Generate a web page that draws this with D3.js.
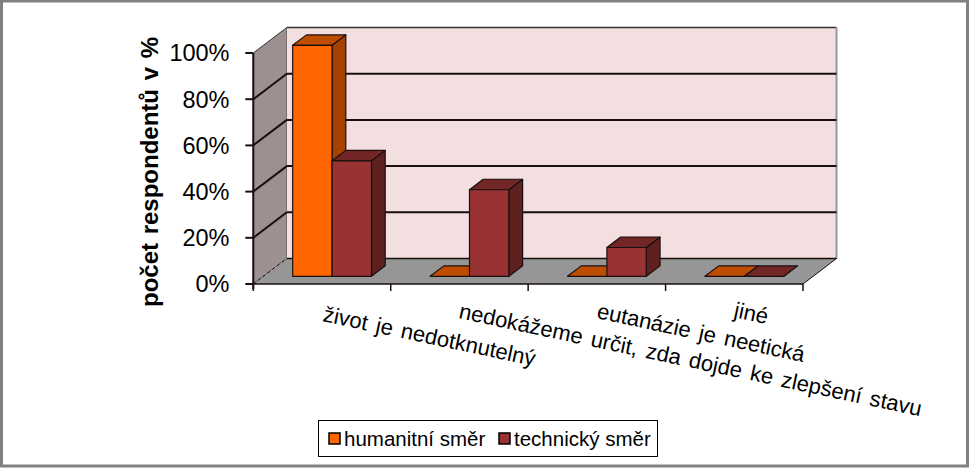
<!DOCTYPE html>
<html lang="cs">
<head>
    <meta charset="UTF-8">
    <title>Počet respondentů</title>
    <script src="https://d3js.org/d3.v7.min.js"></script>
    <style>
        html, body { margin: 0; padding: 0; background: #fff; }
        svg { display: block; }
        text { font-family: "Liberation Sans", Arial, sans-serif; fill: #000; }
    </style>
</head>
<body>
    <svg id="chart" width="969" height="468"></svg>

    <script>
        // data
        const categories = ["život je nedotknutelný", "nedokážeme určit, zda dojde ke zlepšení stavu", "eutanázie je neetická", "jiné"];
        const seriesNames = ["humanitní směr", "technický směr"];
        const humanitni = [100, 0, 0, 0];
        const technicky = [50, 37.5, 12.5, 0];
        const yTicks = [0, 20, 40, 60, 80, 100];
        const seriesValues = [humanitni, technicky];

        const front = ["#ff6600", "#993333"];
        const top3d = ["#bf4d00", "#732626"];
        const side = ["#a64200", "#5f2020"];

        const svg = d3.select("#chart");

        // frame
        svg.append("rect").attr("x", 1.5).attr("y", 1).attr("width", 966).attr("height", 465)
            .attr("fill", "#fff").attr("stroke", "#808080").attr("stroke-width", 3);

        // plot scales (front plane of the 3d box)
        const x = d3.scaleBand().domain(d3.range(categories.length)).range([253.3, 803]);
        const y = d3.scaleLinear().domain([0, 100]).range([284, 53]);
        const dx = 33.5, dy = -25.5; // wall depth
        const barDepth = 0.41; // part of the depth taken by a bar
        const barStart = 0.3;  // bar front plane
        const inner = d3.scaleBand().domain([0, 1]).range([0, x.bandwidth()]).paddingOuter(0.744).paddingInner(0);

        const line = "#1a0f0f";
        const poly = pts => pts.map(p => p.join(",")).join(" ");

        // left wall
        svg.append("polygon")
            .attr("points", poly([[x.range()[0], y(0)], [x.range()[0], y(100)], [x.range()[0] + dx, y(100) + dy], [x.range()[0] + dx, y(0) + dy]]))
            .attr("fill", "#9c9090").attr("stroke", "#333").attr("stroke-width", 1);

        // back wall
        svg.append("rect")
            .attr("x", x.range()[0] + dx).attr("y", y(100) + dy)
            .attr("width", x.range()[1] - x.range()[0]).attr("height", y(0) - y(100))
            .attr("fill", "#f3dfdf");
        svg.append("line")
            .attr("x1", x.range()[0] + dx).attr("x2", x.range()[1] + dx)
            .attr("y1", y(100) + dy).attr("y2", y(100) + dy)
            .attr("stroke", "#333").attr("stroke-width", 1.5);
        svg.append("line")
            .attr("x1", x.range()[1] + dx).attr("x2", x.range()[1] + dx)
            .attr("y1", y(100) + dy).attr("y2", y(0) + dy)
            .attr("stroke", "#999").attr("stroke-width", 2);

        // floor
        svg.append("polygon")
            .attr("points", poly([[x.range()[0], y(0)], [x.range()[1], y(0)], [x.range()[1] + dx, y(0) + dy], [x.range()[0] + dx, y(0) + dy]]))
            .attr("fill", "#969696");
        svg.append("line")
            .attr("x1", x.range()[0] + dx).attr("x2", x.range()[1] + dx)
            .attr("y1", y(0) + dy).attr("y2", y(0) + dy)
            .attr("stroke", line).attr("stroke-width", 1.5);
        svg.append("line")
            .attr("x1", x.range()[1]).attr("x2", x.range()[1] + dx)
            .attr("y1", y(0)).attr("y2", y(0) + dy)
            .attr("stroke", line).attr("stroke-width", 1);

        // gridlines, back wall and left wall
        const grid = svg.append("g").attr("stroke", line).attr("stroke-width", 2);
        yTicks.filter(t => t > 0 && t < 100).forEach(t => {
            grid.append("line")
                .attr("x1", x.range()[0] + dx).attr("x2", x.range()[1] + dx)
                .attr("y1", y(t) + dy).attr("y2", y(t) + dy);
            grid.append("line")
                .attr("x1", x.range()[0]).attr("x2", x.range()[0] + dx)
                .attr("y1", y(t)).attr("y2", y(t) + dy);
        });
        svg.append("line")
            .attr("x1", x.range()[0]).attr("x2", x.range()[0] + dx)
            .attr("y1", y(0)).attr("y2", y(0) + dy)
            .attr("stroke", line).attr("stroke-dasharray", "3,3");

        // bars, back to front and left to right
        const barsG = svg.append("g").attr("stroke", line).attr("stroke-width", 1.2).attr("stroke-linejoin", "round");
        categories.forEach((c, i) => {
            seriesValues.forEach((vals, s) => {
                const x0 = x(i) + inner(s) + barStart * dx;
                const x1 = x0 + inner.bandwidth();
                const b = y(0) + barStart * dy;
                const t = y(vals[i]) + barStart * dy;
                const ox = barDepth * dx, oy = barDepth * dy;
                barsG.append("polygon").attr("fill", side[s])
                    .attr("points", poly([[x1, b], [x1, t], [x1 + ox, t + oy], [x1 + ox, b + oy]]));
                barsG.append("polygon").attr("fill", top3d[s])
                    .attr("points", poly([[x0, t], [x1, t], [x1 + ox, t + oy], [x0 + ox, t + oy]]));
                if (vals[i] > 0) {
                    barsG.append("rect").attr("fill", front[s])
                        .attr("x", x0).attr("y", t).attr("width", x1 - x0).attr("height", b - t);
                }
            });
        });

        // axes
        const yAxis = svg.append("g").attr("stroke", line).attr("stroke-width", 2);
        yAxis.append("line").attr("x1", x.range()[0]).attr("x2", x.range()[0]).attr("y1", y(100)).attr("y2", y(0) + 5);
        yAxis.selectAll(".tick").data(yTicks).enter().append("line")
            .attr("x1", x.range()[0] - 8).attr("x2", x.range()[0])
            .attr("y1", d => y(d)).attr("y2", d => y(d));
        svg.selectAll(".ylab").data(yTicks).enter().append("text")
            .attr("x", 229.5).attr("y", d => y(d))
            .attr("dy", "0.36em")
            .attr("text-anchor", "end")
            .style("font-size", "23.5px")
            .text(d => d + "%");

        svg.append("line")
            .attr("x1", x.range()[0]).attr("x2", x.range()[1])
            .attr("y1", y(0)).attr("y2", y(0))
            .attr("stroke", line).attr("stroke-width", 1.5);
        svg.selectAll(".xtick").data(d3.range(categories.length + 1)).enter().append("line")
            .attr("x1", d => x.range()[0] + d * x.step()).attr("x2", d => x.range()[0] + d * x.step())
            .attr("y1", y(0)).attr("y2", y(0) + 7)
            .attr("stroke", line).attr("stroke-width", 1.5);

        // category labels
        const labelAnchor = [[322, 321], [458, 318], [596, 318], [733, 317]];
        svg.selectAll(".xlab").data(categories).enter().append("text")
            .attr("transform", (d, i) => `translate(${labelAnchor[i][0]},${labelAnchor[i][1]}) rotate(12)`)
            .style("font-size", "22px")
            .style("word-spacing", "2.5px")
            .text(d => d);

        // y title
        svg.append("text")
            .attr("transform", "translate(158,172) rotate(-90)")
            .attr("text-anchor", "middle")
            .style("font-size", "24px")
            .style("font-weight", "bold")
            .style("word-spacing", "2px")
            .text("počet respondentů v %");

        // legend
        svg.append("rect").attr("x", 318.5).attr("y", 420.5).attr("width", 339).attr("height", 36)
            .attr("fill", "#fff").attr("stroke", "#000").attr("stroke-width", 1);
        const legendX = [329, 499];
        seriesNames.forEach((n, i) => {
            svg.append("rect").attr("x", legendX[i]).attr("y", 433).attr("width", 11).attr("height", 11)
                .attr("fill", front[i]).attr("stroke", "#000").attr("stroke-width", 1.5);
            svg.append("text").attr("x", legendX[i] + 15).attr("y", 446)
                .style("font-size", "20.5px").text(n);
        });
    </script>
</body>
</html>
